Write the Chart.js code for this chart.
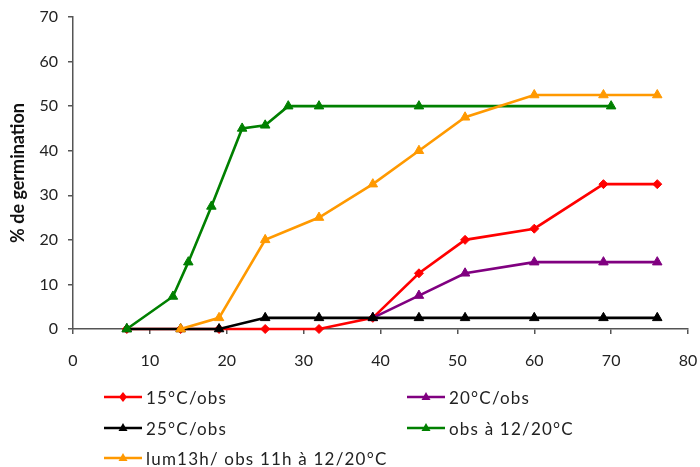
<!DOCTYPE html>
<html>
<head>
<meta charset="utf-8">
<script src="https://cdn.jsdelivr.net/npm/chart.js@4/dist/chart.umd.min.js"></script>
<style>
  html, body { margin: 0; padding: 0; background: #fff; }
  #wrap { position: relative; width: 700px; height: 467px; }
  #c { position: absolute; left: 0; top: 0; }
  .leg { position: absolute; display: flex; align-items: center; font-family: Lato, sans-serif; font-size: 17px; letter-spacing: 1.2px; color: #222; white-space: nowrap; }
  .leg svg { margin-right: 4px; }
</style>
</head>
<body>
<div id="wrap">
  <canvas id="c" width="700" height="467"></canvas>
</div>
<script>
// ---- Data ----
const seriesNames = ["15°C/obs", "20°C/obs", "25°C/obs", "obs à 12/20°C", "lum13h/ obs 11h à 12/20°C"];
const days15 = [7, 14, 19, 25, 32, 39, 45, 51, 60, 69, 76];
const vals15 = [0, 0, 0, 0, 0, 2.5, 12.5, 20, 22.5, 32.5, 32.5];
const days20 = [39, 45, 51, 60, 69, 76];
const vals20 = [2.5, 7.5, 12.5, 15, 15, 15];
const days25 = [7, 14, 19, 25, 32, 39, 45, 51, 60, 69, 76];
const vals25 = [0, 0, 0, 2.5, 2.5, 2.5, 2.5, 2.5, 2.5, 2.5, 2.5];
const daysObs = [7, 13, 15, 18, 22, 25, 28, 32, 45, 70];
const valsObs = [0, 7.3, 15, 27.5, 45, 45.7, 50, 50, 50, 50];
const daysLum = [14, 19, 25, 32, 39, 45, 51, 60, 69, 76];
const valsLum = [0, 2.5, 20, 25, 32.5, 40, 47.5, 52.5, 52.5, 52.5];
const xTicks = [0, 10, 20, 30, 40, 50, 60, 70, 80];
const yTicks = [0, 10, 20, 30, 40, 50, 60, 70];

const colors = ["#FF0000", "#800080", "#000000", "#008000", "#FF9900"];
const markers = ["rectRot", "triangle", "triangle", "triangle", "triangle"];
const allDays = [days15, days20, days25, daysObs, daysLum];
const allVals = [vals15, vals20, vals25, valsObs, valsLum];

const toPts = (d, v) => d.map((x, i) => ({ x: x, y: v[i] }));

const datasets = seriesNames.map((name, i) => ({
  label: name,
  data: toPts(allDays[i], allVals[i]),
  borderColor: colors[i],
  backgroundColor: colors[i],
  pointBackgroundColor: colors[i],
  pointBorderColor: colors[i],
  pointStyle: markers[i],
  pointRadius: markers[i] === "rectRot" ? 4.5 : 5.5,
  pointBorderWidth: 1,
  borderWidth: 2.6,
  tension: 0,
  clip: false,
  order: seriesNames.length - i
}));

const axisColor = "#555555";
const tickFont = { family: "Lato", size: 16 };
const zeroPad = s => { s.paddingLeft = 0; s.paddingRight = 0; s.paddingTop = 0; s.paddingBottom = 0; };

new Chart(document.getElementById("c"), {
  type: "line",
  data: { datasets: datasets },
  options: {
    responsive: false,
    animation: false,
    layout: { padding: { left: 0, right: 12, top: 17, bottom: 98 } },
    plugins: { legend: { display: false }, tooltip: { enabled: false } },
    scales: {
      x: {
        type: "linear",
        min: 0, max: 80,
        afterBuildTicks: s => { s.ticks = xTicks.map(v => ({ value: v })); },
        afterFit: s => { s.height = 40; zeroPad(s); },
        ticks: { font: tickFont, color: "#222", padding: 17, maxRotation: 0 },
        grid: { display: true, drawOnChartArea: false, drawTicks: true, tickLength: 5, color: axisColor, lineWidth: 1.5 },
        border: { display: true, color: axisColor, width: 1.5 }
      },
      y: {
        type: "linear",
        min: 0, max: 70,
        afterBuildTicks: s => { s.ticks = yTicks.map(v => ({ value: v })); },
        afterFit: s => { s.width = 73; zeroPad(s); },
        ticks: { font: tickFont, color: "#222", padding: 10 },
        grid: { display: true, drawOnChartArea: false, drawTicks: true, tickLength: 5, color: axisColor, lineWidth: 1.5 },
        border: { display: true, color: axisColor, width: 1.5 },
        title: { display: true, text: "% de germination", font: { family: "Lato", size: 18, weight: "bold" }, color: "#111", padding: { top: 7, bottom: 0 } }
      }
    }
  }
});

// ---- HTML legend ----
const legPos = [
  { left: 104, top: 397 }, { left: 407, top: 397 },
  { left: 104, top: 428 }, { left: 407, top: 428 },
  { left: 104, top: 458 }
];
const wrap = document.getElementById("wrap");
seriesNames.forEach((name, i) => {
  const d = document.createElement("div");
  d.className = "leg";
  d.style.left = legPos[i].left + "px";
  d.style.top = (legPos[i].top - 10) + "px";
  d.style.height = "20px";
  const c = colors[i];
  const mk = markers[i] === "rectRot"
    ? `<polygon points="19,5 23,10 19,15 15,10" fill="${c}"/>`
    : `<polygon points="19,5 23.5,13 14.5,13" fill="${c}"/>`;
  d.innerHTML = `<svg width="38" height="20"><line x1="0" y1="10" x2="38" y2="10" stroke="${c}" stroke-width="2.6"/>${mk}</svg><span>${name}</span>`;
  wrap.appendChild(d);
});
</script>
</body>
</html>
